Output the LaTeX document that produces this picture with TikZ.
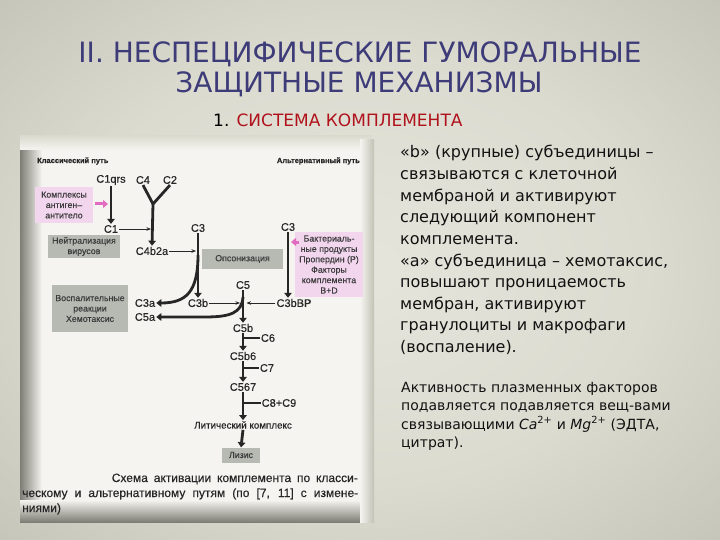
\documentclass[tikz,border=0pt]{standalone}
\usepackage{fontspec}
\setmainfont{DejaVu Sans}
\newfontfamily\diagfont[FakeBold=0.4]{Liberation Sans}
\newfontfamily\slidefont{DejaVu Sans}
\usetikzlibrary{arrows.meta}
\definecolor{titleblue}{HTML}{3D3B78}
\definecolor{subred}{HTML}{B0121C}
\definecolor{pinkfill}{HTML}{F2D6EE}
\definecolor{pinkarrow}{HTML}{E26CC0}
\definecolor{grayfill}{HTML}{B6BAB3}
\definecolor{paper}{HTML}{F5F4F0}
\definecolor{scanedge}{HTML}{7E7E76}
\definecolor{ink}{HTML}{262626}
\definecolor{bodyink}{HTML}{121212}
\definecolor{bgA}{HTML}{E6E5DC}
\definecolor{bgB}{HTML}{DCDBD0}
\definecolor{bgC}{HTML}{C3C2B6}
\definecolor{bgD}{HTML}{A2A196}
\definecolor{bgE}{HTML}{5E5E57}
\pgfdeclareradialshading{slidebg}{\pgfpoint{0bp}{0bp}}{color(0bp)=(bgA); color(20bp)=(bgB); color(38bp)=(bgC); color(50bp)=(bgD); color(72bp)=(bgE)}
\begin{document}
\begin{tikzpicture}[x=1pt,y=-1pt,
  lab/.style={font=\diagfont\fontsize{11}{12}\selectfont, text=ink, inner sep=1pt},
  hdr/.style={font=\diagfont\bfseries\fontsize{7.5}{9}\selectfont, text=ink, inner sep=0pt},
  boxtext/.style={font=\diagfont\fontsize{8.8}{10.4}\selectfont, text=ink!90, align=center, inner sep=0pt},
  graybox/.style={boxtext, fill=grayfill},
  pinkbox/.style={boxtext, fill=pinkfill},
  thickarr/.style={line width=2.8pt, draw=ink, -{Triangle[length=5pt,width=7.5pt]}},
  thickline/.style={line width=2.8pt, draw=ink},
  thinarr/.style={line width=0.6pt, draw=ink, -{Stealth[length=4.5pt,width=3.5pt]}},
  pinkarr/.style={line width=3pt, draw=pinkarrow, -{Triangle[length=5pt,width=8pt]}},
  captext/.style={font=\diagfont\fontsize{12}{14}\selectfont, text=ink, inner sep=0pt},
  titletext/.style={font=\slidefont\fontsize{28}{32}\selectfont, text=titleblue, inner sep=0pt},
  body/.style={font=\slidefont\fontsize{16}{20}\selectfont, text=bodyink, inner sep=0pt, anchor=base west},
  bodysmall/.style={font=\slidefont\fontsize{14}{16}\selectfont, text=bodyink, inner sep=0pt, anchor=base west}]
\useasboundingbox (0,0) rectangle (720,540);
% slide background
\shade[shading=slidebg] (0,0) rectangle (720,540);
% scanned figure background
\fill[paper] (20,140) rectangle (372,522);
\shade[left color=scanedge, right color=paper] (20,140) rectangle (42,522);
\shade[top color=paper, bottom color=scanedge] (20,500) rectangle (372,522);
\shade[top color=bgB, bottom color=paper] (20,136) rectangle (372,150);
\shade[left color=paper, right color=bgC] (360,140) rectangle (374,522);

% title
\node[titletext, anchor=base] (t1) at (360,63) {II. НЕСПЕЦИФИЧЕСКИЕ ГУМОРАЛЬНЫЕ};
\node[titletext, anchor=base] (t2) at (359,93) {ЗАЩИТНЫЕ МЕХАНИЗМЫ};
\node[font=\slidefont\fontsize{17}{20}\selectfont, inner sep=0pt, anchor=base west] (sub) at (213,127)
  {\textcolor{black}{1.} \textcolor{subred}{СИСТЕМА КОМПЛЕМЕНТА}};

% right text
\node[body] (r1) at (400,158) {«b» (крупные) субъединицы –};
\node[body] (r2) at (400,179.6) {связываются с клеточной};
\node[body] (r3) at (400,201.2) {мембраной и активируют};
\node[body] (r4) at (400,222.8) {следующий компонент};
\node[body] (r5) at (400,244.4) {комплемента.};
\node[body] (r6) at (400,266) {«а» субъединица – хемотаксис,};
\node[body] (r7) at (400,287.6) {повышают проницаемость};
\node[body] (r8) at (400,309.2) {мембран, активируют};
\node[body] (r9) at (400,330.8) {гранулоциты и макрофаги};
\node[body] (r10) at (400,352.4) {(воспаление).};

\node[bodysmall] (s1) at (401,392) {Активность плазменных факторов};
\node[bodysmall] (s2) at (401,410.5) {подавляется подавляется вещ-вами};
\node[bodysmall] (s3) at (401,429) {связывающими \textit{Ca}\textsuperscript{2+} и \textit{Mg}\textsuperscript{2+} (ЭДТА,};
\node[bodysmall] (s4) at (401,447.5) {цитрат).};

% diagram headers
\node[hdr, anchor=west] (classic) at (37,161) {Классический путь};
\node[hdr, anchor=east] (altern) at (360,161) {Альтернативный путь};

% classical pathway
\node[lab] (c1qrs) at (111,180) {C1qrs};
\node[lab] (c4) at (143,180) {C4};
\node[lab] (c2) at (170,180) {C2};
\coordinate (yj) at (153,204);
\node[lab] (c1) at (111,229) {C1};
\node[lab] (c4b2a) at (152,251) {C4b2a};
\draw[thickline, line join=miter] (c4.south) -- (yj) -- (c2.south);
\draw[thickarr] (yj) -- (c4b2a.north);
\draw[thickarr] (c1qrs.south) -- (c1.north);
\coordinate (c1end) at (151,229);
\draw[thinarr] (c1.east) -- (c1end);

\node[pinkbox, minimum width=58pt, minimum height=36pt] (komp) at (64,205) {Комплексы\\антиген–\\антитело};
\coordinate (pk) at (108,204);
\draw[pinkarr] ([xshift=2pt]komp.east |- pk) -- (pk);
\node[graybox, minimum width=72pt, minimum height=23pt] (neutr) at (84,246.5) {Нейтрализация\\вирусов};

% left C3
\node[lab] (c3L) at (198,228) {C3};
\node[lab] (c3b) at (198,303) {C3b};
\draw[thickarr] (c3L.south) -- (c3b.north);
\coordinate (c4end) at (196,251);
\draw[thinarr] (c4b2a.east) -- (c4end);
\node[graybox, minimum width=81pt, minimum height=20pt] (opson) at (242.5,259) {Опсонизация};
\node[lab] (c3a) at (145,303) {C3a};
\coordinate (c3split) at (198,255);
\draw[thickarr] (c3split) .. controls (198,292) and (186,303) .. (c3a.east);

% right C3 (alternative)
\node[lab] (c3R) at (288,227) {C3};
\node[lab] (c3bbp) at (294,303) {C3bBP};
\draw[thickarr] (c3R.south) -- (c3R.south |- c3bbp.north);
\node[pinkbox, minimum width=68pt, minimum height=65pt] (bact) at (329,264.5)
  {Бактериаль-\\ные продукты\\Пропердин (P)\\Факторы\\комплемента\\B+D};
\coordinate (pb) at (291,242);
\draw[pinkarr] (bact.west |- pb) ++(4,0) -- (pb);

% C5
\node[lab] (c5) at (243,285) {C5};
\node[lab] (c5b) at (243,328) {C5b};
\draw[thickarr] (c5.south) -- (c5b.north);
\coordinate (c5l) at (240,303);
\coordinate (c5r) at (246.5,303);
\draw[thinarr] (c3b.east) -- (c5l);
\draw[thinarr] (c3bbp.west) -- (c5r);
\node[lab] (c5a) at (145,317) {C5a};
\coordinate (c5split) at (243,297);
\draw[thickarr] (c5split) .. controls (242,313) and (230,317) .. (205,317) -- (c5a.east);
\node[graybox, minimum width=76pt, minimum height=47pt] (vosp) at (90,308.5) {Воспалительные\\реакции\\Хемотаксис};

% terminal chain
\node[lab] (c6) at (268,338) {C6};
\node[lab] (c5b6) at (243,356) {C5b6};
\draw[thickarr] (c5b.south) -- (c5b6.north);
\draw[thickline] (c6.west) -- (c5b.south |- c6.west);
\node[lab] (c7) at (267,368) {C7};
\node[lab] (c567) at (243,387) {C567};
\draw[thickarr] (c5b6.south) -- (c567.north);
\draw[thickline] (c7.west) -- (c5b6.south |- c7.west);
\node[lab] (c89) at (279,403) {C8+C9};
\node[lab, font=\diagfont\fontsize{9.8}{11}\selectfont] (lit) at (243,425) {Литический комплекс};
\draw[thickarr] (c567.south) -- (lit.north);
\draw[thickline] (c89.west) -- (c567.south |- c89.west);
\node[graybox, minimum width=38pt, minimum height=15pt] (lizis) at (241,455) {Лизис};
\draw[thickarr] (lit.south) -- (lizis.north);

% caption
\node[captext, anchor=base east] (cap1) at (358,482) {\makebox[246pt][s]{Схема активации комплемента по класси-}};
\node[captext, anchor=base west] (cap2) at (22,497) {\makebox[336pt][s]{ческому и альтернативному путям (по [7, 11] с измене-}};
\node[captext, anchor=base west] (cap3) at (22,512) {ниями)};
\end{tikzpicture}
\end{document}
